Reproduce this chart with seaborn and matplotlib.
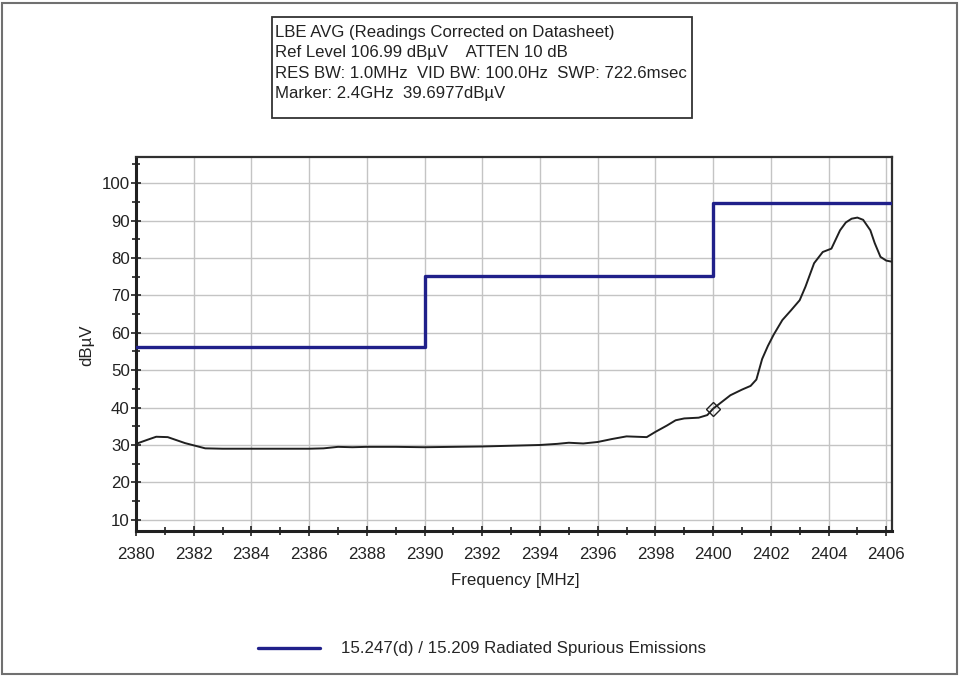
import numpy as np
import pandas as pd
import matplotlib
matplotlib.use("Agg")
import matplotlib.pyplot as plt
from matplotlib.lines import Line2D
from matplotlib.patches import Rectangle
from matplotlib.ticker import MultipleLocator
import seaborn as sns

# Measured average emission trace (MHz, dBuV)
freq_mhz = [2380.0, 2380.4, 2380.7, 2381.1, 2381.4, 2381.7, 2382.0, 2382.4, 2383.0,
            2384.0, 2385.0, 2386.0, 2386.5, 2387.0, 2387.5, 2388.0, 2389.0, 2390.0,
            2391.0, 2392.0, 2393.0, 2394.0, 2394.6, 2395.0, 2395.5, 2396.0, 2396.5,
            2397.0, 2397.7, 2398.0, 2398.4, 2398.7, 2399.0, 2399.5, 2399.8, 2400.0,
            2400.3, 2400.6, 2401.0, 2401.3, 2401.5, 2401.7, 2401.9, 2402.1, 2402.4,
            2402.7, 2403.0, 2403.2, 2403.5, 2403.8, 2404.1, 2404.4, 2404.6, 2404.8,
            2405.0, 2405.2, 2405.45, 2405.6, 2405.8, 2406.0, 2406.2]
level_dbuv = [30.3, 31.4, 32.2, 32.1, 31.3, 30.5, 29.9, 29.1, 29.0,
              29.0, 29.0, 29.0, 29.1, 29.5, 29.4, 29.5, 29.5, 29.4,
              29.5, 29.6, 29.8, 30.0, 30.3, 30.6, 30.4, 30.8, 31.6,
              32.3, 32.1, 33.5, 35.2, 36.6, 37.1, 37.3, 38.0, 39.7,
              41.5, 43.3, 44.8, 45.8, 47.5, 53.0, 56.5, 59.5, 63.4,
              66.0, 68.7, 72.3, 78.6, 81.6, 82.5, 87.4, 89.5, 90.5,
              90.8, 90.2, 87.4, 84.0, 80.3, 79.3, 79.0]

# FCC 15.247(d) / 15.209 limit line
limit_freq = [2380.0, 2390.0, 2400.0, 2406.2]
limit_dbuv = [56.2, 75.1, 94.7, 94.7]

marker_freq = 2400.0
marker_level = 39.6977

header_lines = [
    "LBE AVG (Readings Corrected on Datasheet)",
    "Ref Level 106.99 dB\u00b5V    ATTEN 10 dB",
    "RES BW: 1.0MHz  VID BW: 100.0Hz  SWP: 722.6msec",
    "Marker: 2.4GHz  39.6977dB\u00b5V",
]
legend_label = "15.247(d) / 15.209 Radiated Spurious Emissions"

sns.set_theme(style="white")
plt.rcParams["font.family"] = ["Liberation Sans", "DejaVu Sans"]

FS = 12.2
fig = plt.figure(figsize=(9.6, 6.76), dpi=100)
ax = fig.add_axes([136 / 960, 1 - 531 / 676, (892 - 136) / 960, (531 - 157) / 676])

trace = pd.DataFrame({"freq": freq_mhz, "level": level_dbuv})
limit = pd.DataFrame({"freq": limit_freq, "level": limit_dbuv})

sns.lineplot(data=limit, x="freq", y="level", ax=ax, color="#20208a",
             linewidth=2.4, drawstyle="steps-post", zorder=3)
sns.lineplot(data=trace, x="freq", y="level", ax=ax, color="#202020",
             linewidth=1.4, zorder=4)
ax.plot([marker_freq], [marker_level], marker="D", markersize=7,
        markerfacecolor="none", markeredgecolor="#202020", markeredgewidth=1.0,
        zorder=5)

ax.set_xlim(2380, 2406.2)
ax.set_ylim(7, 107)
ax.xaxis.set_major_locator(MultipleLocator(2))
ax.xaxis.set_minor_locator(MultipleLocator(1))
ax.yaxis.set_major_locator(MultipleLocator(10))
ax.yaxis.set_minor_locator(MultipleLocator(5))
ax.set_yticks(np.arange(10, 101, 10))

ax.grid(True, which="major", color="#c4c4c4", linewidth=1.0)
ax.tick_params(axis="both", which="both", direction="inout", color="#202020",
               labelsize=FS, labelcolor="#222222", width=1.2)
ax.tick_params(axis="x", which="both", bottom=True, top=False)
ax.tick_params(axis="y", which="both", left=True, right=False)
ax.tick_params(axis="both", which="major", length=7)
ax.tick_params(axis="both", which="minor", length=6)
ax.tick_params(axis="x", which="major", pad=8)
ax.tick_params(axis="y", which="major", pad=1)

for side in ["left", "bottom"]:
    ax.spines[side].set_color("#202020")
    ax.spines[side].set_linewidth(2.2)
for side in ["top", "right"]:
    ax.spines[side].set_color("#303030")
    ax.spines[side].set_linewidth(1.6)

ax.set_xlabel("Frequency [MHz]", fontsize=FS, color="#222222", va="center")
ax.set_ylabel("dB\u00b5V", fontsize=FS, color="#222222", va="center")
ax.xaxis.set_label_coords((515 - 136) / 756, (531 - 580) / 374)
ax.yaxis.set_label_coords((87 - 136) / 756, (531 - 345) / 374)

# Header box with analyzer settings
fig.text(275 / 960, 1 - 25 / 676, "\n".join(header_lines), fontsize=12.1,
         color="#222222", va="top", ha="left", linespacing=1.45,
         transform=fig.transFigure)
header_box = Rectangle((272 / 960, 1 - 118 / 676), (692 - 272) / 960,
                       (118 - 17) / 676, transform=fig.transFigure,
                       fill=False, edgecolor="#333333", linewidth=1.3)
fig.patches.append(header_box)

# Legend below the plot
handle = Line2D([], [], color="#20208a", linewidth=2.4)
fig.legend([handle], [legend_label], loc="center", bbox_to_anchor=(482 / 960, 1 - 649 / 676),
           frameon=False, fontsize=FS, handlelength=3.65, handletextpad=1.2)

# Outer frame
frame = Rectangle((2 / 960, 2 / 676), 955 / 960, 671 / 676, transform=fig.transFigure,
                  fill=False, edgecolor="#707070", linewidth=1.5)
fig.patches.append(frame)

fig.savefig("out.png", dpi=100, facecolor="white")
